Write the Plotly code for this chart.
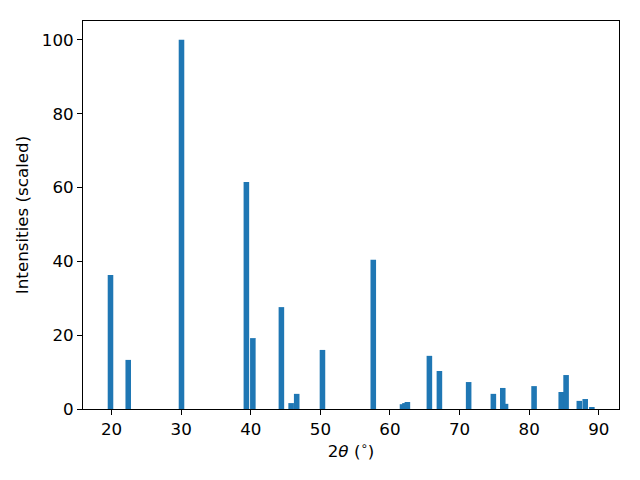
import plotly.graph_objects as go

two_theta = [19.85, 22.4, 30.05, 39.37, 40.3, 44.4, 45.8, 46.6, 50.3, 57.6,
             61.8, 62.15, 62.5, 65.66, 67.1, 71.3, 74.85, 76.2, 76.6, 80.7,
             84.6, 85.3, 87.2, 88.05, 89.0]
intensity = [36.3, 13.3, 100.0, 61.5, 19.2, 27.6, 1.6, 4.1, 16.0, 40.4,
             1.3, 1.6, 1.9, 14.4, 10.3, 7.3, 4.1, 5.7, 1.4, 6.2,
             4.6, 9.2, 2.2, 2.7, 0.3]

x_ticks = [20, 30, 40, 50, 60, 70, 80, 90]
y_ticks = [0, 20, 40, 60, 80, 100]

fig = go.Figure(go.Bar(
    x=two_theta, y=intensity, width=0.8,
    marker=dict(color="#1f77b4", line=dict(width=0)),
))

font = dict(family="DejaVu Sans", size=16.7, color="black")
fig.update_layout(
    width=640, height=480,
    margin=dict(l=75, r=29, t=13, b=79, autoexpand=False),
    paper_bgcolor="white", plot_bgcolor="white",
    font=font, showlegend=False,
)
fig.update_xaxes(
    range=[15.9, 92.9], tickvals=x_ticks, ticks="outside", ticklen=5,
    tickcolor="black", showline=True, linecolor="black", linewidth=1,
    mirror=True, showgrid=False, zeroline=False,
    title=dict(text="2<i>θ</i> (<sup>∘</sup>)", font=font, standoff=6),
)
fig.update_yaxes(
    range=[0, 105.1], tickvals=y_ticks, ticks="outside", ticklen=5,
    tickcolor="black", showline=True, linecolor="black", linewidth=1,
    mirror=True, showgrid=False, zeroline=False,
    title=dict(text="Intensities (scaled)", font=font, standoff=8),
)
fig.write_html("out.html")
